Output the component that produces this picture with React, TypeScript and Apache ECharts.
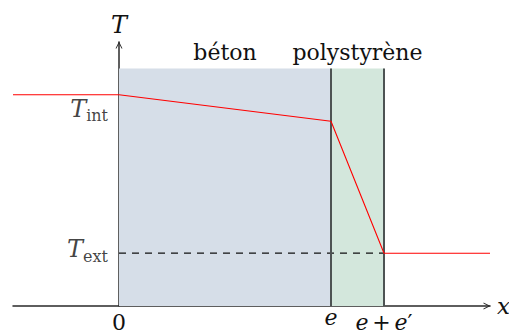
import React, { useEffect, useRef } from 'react';
import * as echarts from 'echarts';

// ---- data ----
const xLimits = [-1, 3.5];
const yLimits = [0, 10];
const layerNames = ['béton', 'polystyrène'];
const layerStarts = [0, 2];
const layerEnds = [2, 2.5];
const layerTop = 9;
const layerColors = ['#d6dee8', '#d3e7dc'];
const profileX = [-1, 0, 2, 2.5, 3.5];
const profileT = [8, 8, 7, 2, 2];
const extLevelX = [0, 2.5];
const xTickValues = [0, 2, 2.5];
const xTickLabels = ['{z|0}', '{e|e}', '{f|e} {g|+} {f|e}{g|′}'];
const tempLevels = [8, 2];
const tempSubs = ['int', 'ext'];
const tempOffsets = [15.5, -2.5];

const SERIF = 'DejaVu Serif';

export default function App() {
  const ref = useRef<HTMLDivElement>(null);
  useEffect(() => {
    if (!ref.current) return;
    const chart = echarts.init(ref.current, null, { renderer: 'svg' });
    const arrowPath = 'path://M0,10 L5,0 L10,10 L8.6,10 L5,3 L1.4,10 Z';
    const axisColor = '#2a2a2a';

    const areaData = layerNames.map((n, i) => [
      {
        name: n,
        xAxis: layerStarts[i],
        yAxis: 0,
        itemStyle: { color: layerColors[i] },
      },
      { xAxis: layerEnds[i], yAxis: layerTop },
    ]);

    const boundarySeries = layerEnds.map((xe, i) => ({
      type: 'line',
      name: 'limite' + i,
      data: [
        [xe, 0],
        [xe, layerTop],
      ],
      symbol: 'none',
      lineStyle: { color: '#4d5353', width: 2 },
      z: 4,
      silent: true,
    }));

    const option = {
      animation: false,
      textStyle: { fontFamily: SERIF },
      grid: {
        left: 13,
        right: 19,
        top: 42,
        bottom: 29,
        containLabel: false,
        outerBoundsMode: 'none',
      },
      xAxis: {
        type: 'value',
        min: xLimits[0],
        max: xLimits[1],
        name: 'x',
        nameLocation: 'end',
        nameGap: 7,
        nameTextStyle: {
          fontFamily: SERIF,
          fontStyle: 'italic',
          fontSize: 23,
          color: '#111',
          padding: [0, 0, 6, 0],
        },
        axisLine: {
          onZero: true,
          lineStyle: { color: axisColor, width: 1.5 },
          symbol: ['none', arrowPath],
          symbolSize: [7, 7],
          symbolOffset: [0, -3],
        },
        axisTick: { show: false },
        splitLine: { show: false },
        axisLabel: {
          customValues: xTickValues,
          margin: -1,
          verticalAlign: 'top',
          fontFamily: SERIF,
          formatter: (v: number) => {
            const i = xTickValues.indexOf(v);
            return i >= 0 ? xTickLabels[i] : '';
          },
          rich: {
            z: { fontFamily: SERIF, fontSize: 22, color: '#111', padding: [6, 0, 0, 0] },
            e: { fontFamily: SERIF, fontSize: 22, fontStyle: 'italic', color: '#111', padding: [1, 0, 0, 0] },
            f: { fontFamily: SERIF, fontSize: 22, fontStyle: 'italic', color: '#111', padding: [6, 0, 0, 0] },
            g: { fontFamily: SERIF, fontSize: 22, color: '#111', padding: [6, 0, 0, 0] },
          },
        },
      },
      yAxis: {
        type: 'value',
        min: yLimits[0],
        max: yLimits[1],
        name: 'T',
        nameLocation: 'end',
        nameGap: 5,
        nameTextStyle: {
          fontFamily: SERIF,
          fontStyle: 'italic',
          fontSize: 24,
          color: '#111',
          align: 'center',
        },
        axisLine: {
          onZero: true,
          lineStyle: { color: axisColor, width: 1.5 },
          symbol: ['none', arrowPath],
          symbolSize: [7, 7],
          symbolOffset: [0, -3],
        },
        axisTick: { show: false },
        splitLine: { show: false },
        axisLabel: { show: false },
      },
      series: [
        {
          type: 'line',
          name: 'couches',
          data: [],
          silent: true,
          z: 1,
          markArea: {
            silent: true,
            label: {
              show: true,
              position: 'top',
              distance: 5,
              fontFamily: SERIF,
              fontSize: 22,
              color: '#111',
            },
            data: areaData,
          },
        },
        {
          type: 'line',
          name: 'Text',
          data: extLevelX.map((x) => [x, tempLevels[1]]),
          symbol: 'none',
          lineStyle: { color: '#111', width: 1.2, type: [7, 6] },
          z: 3,
          silent: true,
        },
        ...boundarySeries,
        {
          type: 'line',
          name: 'profil',
          data: profileX.map((x, i) => [x, profileT[i]]),
          symbol: 'none',
          lineStyle: { color: '#ff0000', width: 1.1 },
          z: 6,
          silent: true,
        },
        {
          type: 'scatter',
          name: 'niveaux',
          symbolSize: 0,
          silent: true,
          z: 7,
          data: tempLevels.map((t, i) => ({
            value: [0, t],
            label: {
              show: true,
              position: 'left',
              distance: 11,
              offset: [0, tempOffsets[i]],
              fontFamily: SERIF,
              formatter: `{T|T}{s|${tempSubs[i]}}`,
              rich: {
                T: {
                  fontFamily: SERIF,
                  fontStyle: 'italic',
                  fontSize: 24,
                  color: '#111',
                  verticalAlign: 'bottom',
                  padding: [0, 0, 3, 0],
                },
                s: {
                  fontFamily: SERIF,
                  fontSize: 16,
                  color: '#111',
                  verticalAlign: 'bottom',
                },
              },
            },
          })),
        },
      ],
    };
    chart.setOption(option as any);
    return () => chart.dispose();
  }, []);
  return (
    <div
      ref={ref}
      style={{ position: 'absolute', left: 0, top: 0, width: 509, height: 335 }}
    />
  );
}
